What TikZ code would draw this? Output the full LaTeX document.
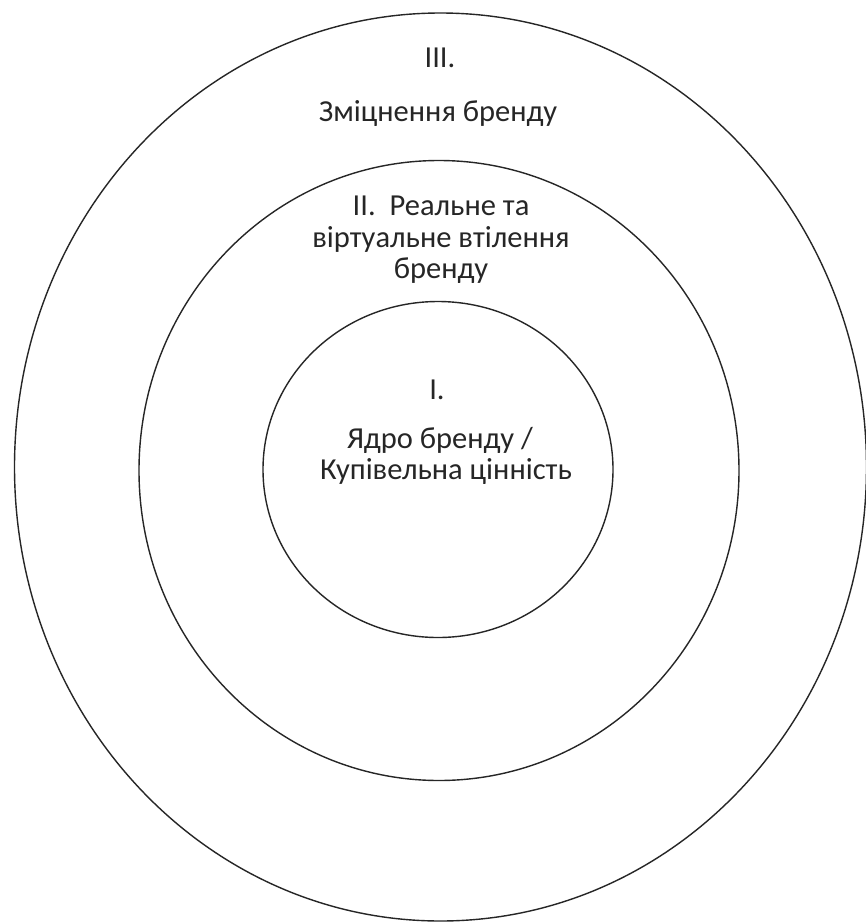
\documentclass[tikz,border=0pt]{standalone}
\usepackage{fontspec}
\setmainfont{Carlito}
\begin{document}
\begin{tikzpicture}[x=1pt,y=-1pt,
  ring/.style={draw=black!85,line width=1.4pt},
  lbl/.style={inner sep=0pt,align=center,text=black!85,font=\fontsize{30.5}{31.5}\selectfont}]
\useasboundingbox[fill=white] (0,0) rectangle (866,922);
\draw[ring] (440.5,467) ellipse [x radius=426, y radius=454];
\draw[ring] (439,470.5) ellipse [x radius=300, y radius=310];
\draw[ring] (438,469.5) ellipse [x radius=175, y radius=168];
\node[lbl] (t3) at (440,58) {III.};
\node[lbl] (t3b) at (438,114) {Зміцнення бренду};
\node[lbl] (t2) at (441,240) {II.\ \ Реальне та\\віртуальне втілення\\бренду};
\node[lbl] (t1) at (437,390) {I.};
\node[lbl] (t1a) at (440,440) {Ядро бренду /};
\node[lbl] (t1b) at (446,472) {Купівельна цінність};
\end{tikzpicture}
\end{document}
